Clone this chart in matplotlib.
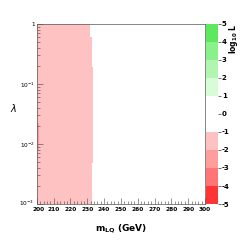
import matplotlib
matplotlib.use("Agg")
import matplotlib.pyplot as plt
import matplotlib.transforms as mtransforms
from matplotlib.colors import ListedColormap, BoundaryNorm
from matplotlib.ticker import FixedLocator, MultipleLocator
import numpy as np

plt.rcParams['axes.unicode_minus'] = False

# Grenzen van het uitgesloten gebied (log10 lambda banden -> maximale m_LQ)
log_lambda_bands = [0.0, -0.23, -0.72, -2.32, -3.0]
m_edge_per_band = [231.6, 232.6, 233.2, 232.6]
log10_L_fill = -1.5

# donkerdere strook aan de linkerrand
strip_m = [200.0, 201.5]
strip_log_lambda = [-2.1, -1.65]
strip_value = -2.3

levels = [-5, -4, -3, -2, -1, 0, 1, 2, 3, 4, 5]
level_colors = ['#ff3535', '#ff7575', '#ff9c9c', '#ffc2c2', '#ffffff',
                '#ffffff', '#d8fbd8', '#b0f6b0', '#8af08a', '#5ee85e']

# raster opbouwen
m_edges = np.arange(200.0, 300.01, 0.2)
ll_edges = np.linspace(-3.0, 0.0, 241)
m_c = 0.5 * (m_edges[:-1] + m_edges[1:])
ll_c = 0.5 * (ll_edges[:-1] + ll_edges[1:])
z = np.full((len(ll_c), len(m_c)), np.nan)
for i, ll in enumerate(ll_c):
    for b in range(len(m_edge_per_band)):
        if log_lambda_bands[b + 1] <= ll <= log_lambda_bands[b]:
            z[i, m_c < m_edge_per_band[b]] = log10_L_fill
    if strip_log_lambda[0] <= ll <= strip_log_lambda[1]:
        z[i, (m_c >= strip_m[0]) & (m_c < strip_m[1])] = strip_value

cmap = ListedColormap(level_colors)
norm = BoundaryNorm(levels, cmap.N)

fig = plt.figure(figsize=(2.42, 2.42), dpi=100)
ax = fig.add_axes([0.152, 0.157, 0.695, 0.744])
mesh = ax.pcolormesh(m_edges, 10 ** ll_edges, z, cmap=cmap, norm=norm,
                     shading='flat', rasterized=True)
ax.set_yscale('log')
ax.set_xlim(200, 300)
ax.set_ylim(1e-3, 1)

for s in ax.spines.values():
    s.set_linewidth(0.5)
    s.set_color('#555555')

ax.xaxis.set_minor_locator(MultipleLocator(2))
ax.set_xticks(range(200, 301, 10))
ax.set_xticklabels([str(v) for v in range(200, 301, 10)])
ax.yaxis.set_major_locator(FixedLocator([1e-3, 1e-2, 1e-1, 1]))
ax.set_yticklabels([r'$10^{-3}$', r'$10^{-2}$', r'$10^{-1}$', '1'])
ax.tick_params(which='both', direction='in', top=False, right=False,
               labelsize=4.2, pad=1.2, width=0.4, color='#444444')
ax.tick_params(axis='x', which='both', pad=2.2)
ax.tick_params(which='major', length=4)
ax.tick_params(which='minor', length=2)
for t in ax.get_xticklabels():
    t.set_fontweight('bold')

# hoeklabels een klein beetje uit elkaar schuiven
ylab0 = ax.get_yticklabels()[0]
ylab0.set_transform(ylab0.get_transform() +
                    mtransforms.ScaledTranslation(-1 / 100, 2 / 100, fig.dpi_scale_trans))
xlab0 = ax.get_xticklabels()[0]
xlab0.set_transform(xlab0.get_transform() +
                    mtransforms.ScaledTranslation(2 / 100, 0, fig.dpi_scale_trans))

ax.set_xlabel(r'm$_{\mathbf{LQ}}$ (GeV)', fontsize=6.5, fontweight='bold',
              labelpad=7)
ax.set_ylabel(r'$\lambda$', fontsize=7, rotation=0)
ax.yaxis.set_label_coords(-0.14, 0.5)

cax = fig.add_axes([0.851, 0.157, 0.05, 0.744])
cb = fig.colorbar(mesh, cax=cax, ticks=levels)
cb.outline.set_visible(False)
cax.tick_params(direction='out', length=2, width=0.4, labelsize=5, pad=0.8)
for t in cax.get_yticklabels():
    t.set_fontweight('bold')
cax.text(2.25, 1.0, r'log$_{\mathbf{10}}$ L', transform=cax.transAxes,
         rotation=90, ha='center', va='top', fontsize=5.5, fontweight='bold')

fig.savefig('out.png', dpi=100)
